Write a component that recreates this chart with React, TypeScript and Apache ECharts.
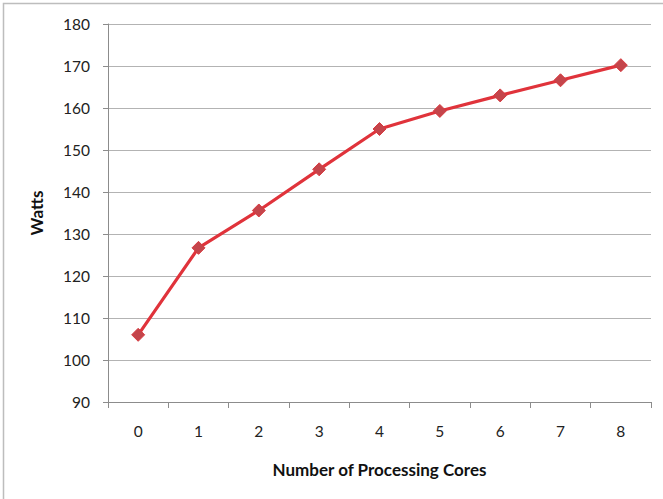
import React, { useEffect, useRef } from "react";
import * as echarts from "echarts";

const categories = ["0", "1", "2", "3", "4", "5", "6", "7", "8"];
const watts = [106, 126.7, 135.6, 145.4, 155, 159.3, 163, 166.6, 170.2];
const yMin = 90;
const yMax = 180;
const yStep = 10;

export default function App() {
  const ref = useRef<HTMLDivElement>(null);
  useEffect(() => {
    document.body.style.margin = "0";
    const chart = echarts.init(ref.current!, null, { renderer: "svg" });
    const font = "Lato, 'Open Sans', sans-serif";
    chart.setOption({
      animation: false,
      backgroundColor: "#ffffff",
      graphic: [
        {
          type: "rect",
          shape: { x: 3.5, y: 3.5, width: 720, height: 600 },
          style: { fill: "none", stroke: "#bdbdbd", lineWidth: 1.5 },
          silent: true,
        },
      ],
      grid: { left: 108, right: 12, top: 24, bottom: 97 },
      xAxis: {
        type: "category",
        data: categories,
        boundaryGap: true,
        name: "Number of Processing Cores",
        nameLocation: "middle",
        nameGap: 59,
        nameTextStyle: { fontFamily: font, fontWeight: "bold", fontSize: 17, color: "#111" },
        axisLine: { show: true, lineStyle: { color: "#8c8c8c", width: 1 } },
        axisTick: { show: true, length: 6, alignWithLabel: false, lineStyle: { color: "#8c8c8c" } },
        axisLabel: { margin: 21, fontFamily: font, fontSize: 15.5, color: "#222" },
        splitLine: { show: false },
      },
      yAxis: {
        type: "value",
        min: yMin,
        max: yMax,
        interval: yStep,
        name: "Watts",
        nameLocation: "middle",
        nameGap: 63,
        nameRotate: 90,
        nameTextStyle: { fontFamily: font, fontWeight: "bold", fontSize: 17, color: "#111" },
        axisLine: { show: true, lineStyle: { color: "#8c8c8c", width: 1 } },
        axisTick: { show: true, length: 5, lineStyle: { color: "#8c8c8c" } },
        axisLabel: { margin: 18, fontFamily: font, fontSize: 15.5, color: "#222" },
        splitLine: { show: true, lineStyle: { color: "#b3b3b3", width: 1 } },
      },
      series: [
        {
          type: "line",
          data: watts,
          symbol: "diamond",
          symbolSize: 13,
          lineStyle: { color: "#e0333b", width: 3.2 },
          itemStyle: { color: "#c4454b", borderColor: "#d83a40", borderWidth: 1 },
        },
      ],
    });
    return () => chart.dispose();
  }, []);
  return <div ref={ref} style={{ position: "fixed", left: 0, top: 0, width: 663, height: 499 }} />;
}
